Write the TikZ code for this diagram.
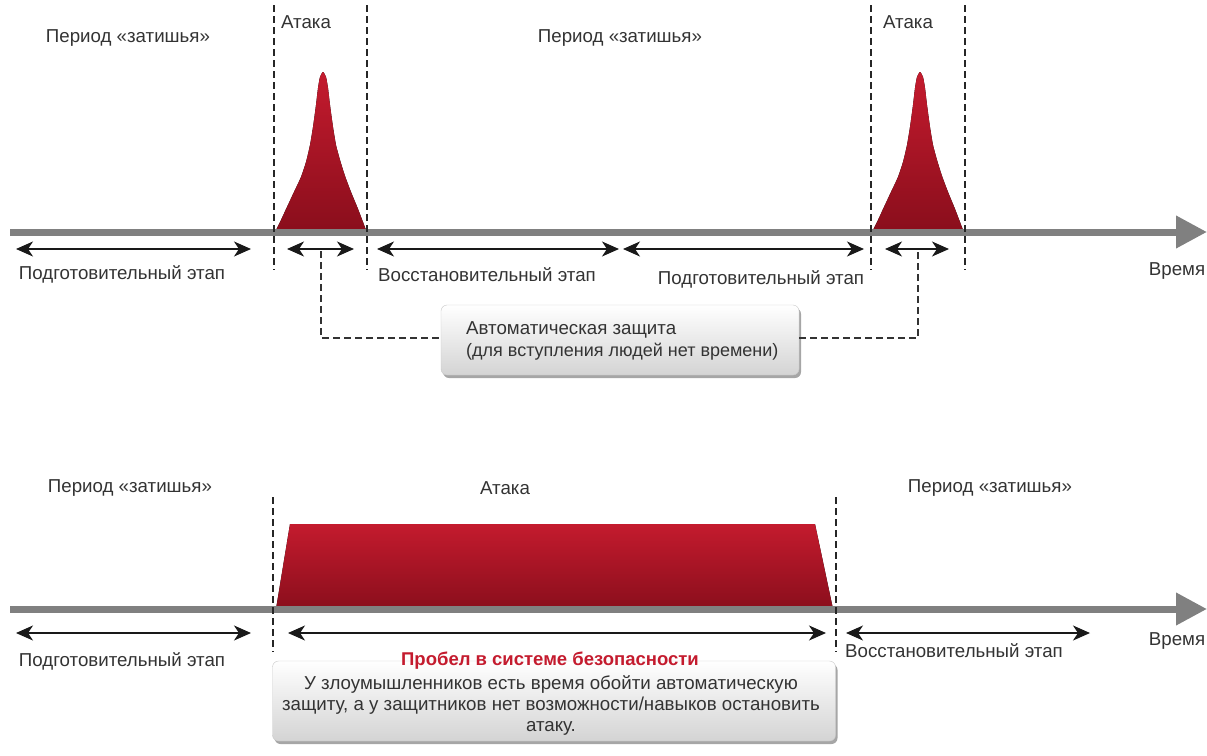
\documentclass[tikz,border=0pt]{standalone}
\usepackage{fontspec}
\setmainfont{Liberation Sans}
\usetikzlibrary{arrows.meta,shadows}
\definecolor{txt}{HTML}{333333}
\definecolor{axisgray}{HTML}{808080}
\definecolor{redtop}{HTML}{C41B2E}
\definecolor{redbot}{HTML}{8A0E1C}
\definecolor{boxedge}{HTML}{C8C8C8}
\tikzset{
  lbl/.style={text=txt,font=\fontsize{18.7}{22}\selectfont,inner sep=0pt},
  axis/.style={draw=axisgray,line width=7pt,-{Triangle[length=31pt,width=31pt]}},
  sep/.style={draw=black!85,line width=1.1pt,dash pattern=on 7pt off 4pt},
  span/.style={draw=black!90,line width=1.5pt,{Stealth[length=17pt,width=15pt,inset=5pt]}-{Stealth[length=17pt,width=15pt,inset=5pt]}},
  link/.style={draw=black!80,line width=1.1pt,dash pattern=on 7pt off 4pt},
  callout/.style={draw=boxedge,rounded corners=6pt,top color=white,bottom color=black!17,
    drop shadow={shadow xshift=2pt,shadow yshift=-3pt,opacity=0.35,fill=black}},
  attack/.style={top color=redtop,bottom color=redbot,draw=none},
  peakpath/.style={}
}
\begin{document}
\begin{tikzpicture}[x=1pt,y=-1pt]
\useasboundingbox (0,0) rectangle (1207,755);
% ---------- TOP ----------
% peaks
\begin{scope}
\fill[attack] plot[smooth,tension=0.35] coordinates {(276,230) (281,220) (287,207) (294,192) (301,177) (306,162) (310,145) (313,127) (316,105) (318,88) (320,77) (323,72) (326,77) (328,88) (330,105) (333,127) (336,145) (340,160) (345,176) (351,192) (358,209) (366,230)} -- cycle;
\end{scope}
\begin{scope}[xshift=597pt]
\fill[attack] plot[smooth,tension=0.35] coordinates {(276,230) (281,220) (287,207) (294,192) (301,177) (306,162) (310,145) (313,127) (316,105) (318,88) (320,77) (323,72) (326,77) (328,88) (330,105) (333,127) (336,145) (340,160) (345,176) (351,192) (358,209) (366,230)} -- cycle;
\end{scope}
% axis
\coordinate (a1s) at (10,232);
\coordinate (a1e) at (1207,232);
\draw[axis] (a1s) -- (a1e);
% separators
\draw[sep] (274,5) -- (274,270);
\draw[sep] (367,5) -- (367,270);
\draw[sep] (871,5) -- (871,270);
\draw[sep] (965,5) -- (965,270);
% labels
\node[lbl] (tq1) at (128,38) {Период «затишья»};
\node[lbl] (ta1) at (306,22) {Атака};
\node[lbl] (tq2) at (620,38) {Период «затишья»};
\node[lbl] (ta2) at (908,22) {Атака};
% spans
\coordinate (s1a) at (16,249); \coordinate (s1b) at (251,249);
\coordinate (s2a) at (287,249); \coordinate (s2b) at (354,249);
\coordinate (s3a) at (377,249); \coordinate (s3b) at (619,249);
\coordinate (s4a) at (623,249); \coordinate (s4b) at (864,249);
\coordinate (s5a) at (885,249); \coordinate (s5b) at (949,249);
\draw[span] (s1a) -- (s1b);
\draw[span] (s2a) -- (s2b);
\draw[span] (s3a) -- (s3b);
\draw[span] (s4a) -- (s4b);
\draw[span] (s5a) -- (s5b);
\node[lbl] (tp1) at (122,274) {Подготовительный этап};
\node[lbl] (tr1) at (487,275) {Восстановительный этап};
\node[lbl] (tp2) at (761,279) {Подготовительный этап};
\node[lbl] (tt) at (1177,271) {Время};
% callout
\node[callout,minimum width=358pt,minimum height=70pt,inner sep=0pt] (auto) at (620,340) {};
\node[lbl,anchor=west,align=left] (autot) at (466,330) {Автоматическая защита};
\node[lbl,anchor=west,align=left,font=\fontsize{18}{21}\selectfont] (autos) at (466,352) {(для вступления людей нет времени)};
\coordinate (c1) at (321,251);
\coordinate (c2) at (918,251);
\draw[link] (c1) |- (auto.west |- 0,338);
\draw[link] (auto.east |- 0,338) -| (c2);
% ---------- BOTTOM ----------
\fill[attack] (276,609) -- (290,524) -- (815,524) -- (833,609) -- cycle;
\coordinate (a2s) at (10,609);
\coordinate (a2e) at (1207,609);
\draw[axis] (a2s) -- (a2e);
\draw[sep] (273,497) -- (273,652);
\draw[sep] (836,497) -- (836,652);
\node[lbl] (bq1) at (130,488) {Период «затишья»};
\node[lbl] (ba) at (505,488) {Атака};
\node[lbl] (bq2) at (990,488) {Период «затишья»};
\coordinate (b1a) at (16,633); \coordinate (b1b) at (251,633);
\coordinate (b2a) at (288,633); \coordinate (b2b) at (826,633);
\coordinate (b3a) at (846,633); \coordinate (b3b) at (1090,633);
\draw[span] (b1a) -- (b1b);
\draw[span] (b2a) -- (b2b);
\draw[span] (b3a) -- (b3b);
\node[lbl] (bp1) at (122,661) {Подготовительный этап};
\node[lbl] (br1) at (954,651) {Восстановительный этап};
\node[lbl] (bt) at (1177,641) {Время};
\node[callout,minimum width=563pt,minimum height=80pt,inner sep=0pt] (gap) at (554,701) {};
\node[lbl,text=redtop,font=\fontsize{18.5}{22}\selectfont\bfseries] (gapt) at (550,661) {Пробел в системе безопасности};
\node[lbl,align=center,font=\fontsize{18.7}{21}\selectfont] (gaps) at (551,705) {У злоумышленников есть время обойти автоматическую\\защиту, а у защитников нет возможности/навыков остановить\\атаку.};
\end{tikzpicture}
\end{document}
